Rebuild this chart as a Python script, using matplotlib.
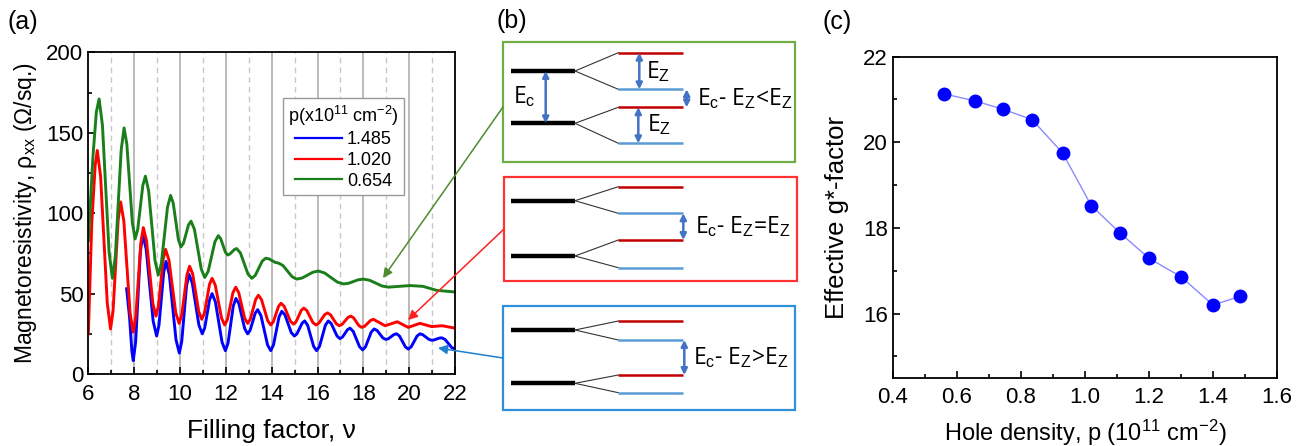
import matplotlib
matplotlib.use("Agg")
import matplotlib.pyplot as plt
from matplotlib.ticker import MultipleLocator, FormatStrFormatter
from matplotlib.patches import Rectangle

plt.rcParams['font.family'] = ['Liberation Sans', 'DejaVu Sans']
plt.rcParams['mathtext.fontset'] = 'custom'
plt.rcParams['mathtext.rm'] = 'Liberation Sans'
plt.rcParams['mathtext.it'] = 'Liberation Sans:italic'

# ---------------- Panel (a) data: points ----------------
nu_green = [6.0, 6.2, 6.35, 6.47, 6.615, 6.905, 7.05, 7.178, 7.433, 7.56, 7.68, 7.92, 8.04,
            8.153, 8.378, 8.49, 8.63, 8.91, 9.05, 9.185, 9.455, 9.59, 9.703, 9.928, 10.04,
            10.15, 10.37, 10.48, 10.63, 10.93, 11.08, 11.228, 11.523, 11.67, 11.773, 11.978,
            12.08, 12.178, 12.373, 12.47, 12.635, 12.965, 13.13, 13.283, 13.588, 13.74,
            13.878, 14.153, 14.29, 14.49, 14.89, 15.09, 15.33, 15.8, 16.04, 16.31, 16.86,
            17.13, 17.35, 17.78, 18.0, 18.27, 18.82, 19.09, 20.04, 20.6, 21.2, 22.0]
rho_green = [83, 135, 163, 171, 154.7, 75.8, 59.5, 73.2, 139.3, 153, 142.9, 94.1, 84,
             89.7, 117.3, 123, 114, 70.5, 61.5, 68.7, 103.8, 111, 106.3, 83.7, 79,
             81.3, 92.7, 95, 89.9, 65.1, 60, 63.8, 82.2, 86, 84.2, 75.8,
             74, 74.6, 77.4, 78, 75.3, 62.2, 59.5, 61.3, 70.2, 72,
             71.6, 69.4, 69, 67.5, 60.5, 59, 59.7, 63.3, 64, 62.8, 57.2,
             56, 56.4, 58.6, 59, 58.3, 54.7, 54, 55, 54.5, 52, 51]

nu_red = [6.0, 6.15, 6.3, 6.39, 6.535, 6.825, 6.97, 7.08, 7.30, 7.41, 7.548, 7.823, 7.96,
          8.07, 8.29, 8.40, 8.538, 8.813, 8.95, 9.055, 9.265, 9.37, 9.518, 9.813, 9.96,
          10.075, 10.305, 10.42, 10.553, 10.818, 10.95, 11.063, 11.288, 11.40, 11.538,
          11.813, 11.95, 12.07, 12.31, 12.43, 12.56, 12.82, 12.95, 13.068, 13.303, 13.42,
          13.555, 13.825, 13.96, 14.073, 14.298, 14.41, 14.545, 14.815, 14.95, 15.063,
          15.288, 15.40, 15.533, 15.798, 15.93, 16.058, 16.313, 16.44, 16.568, 16.823,
          16.95, 17.075, 17.325, 17.45, 17.57, 17.81, 17.93, 18.058, 18.313, 18.44, 18.95,
          19.48, 19.96, 20.47, 20.98, 21.45, 22.0]
rho_red = [25, 94, 130, 139, 122.8, 44.2, 28, 39.5, 95.5, 107, 95.2, 37.8, 26,
           35.5, 81.5, 91, 83, 44, 36, 42.1, 71.4, 77.5, 70.8, 38.2, 31.5,
           36.7, 61.8, 67, 62.2, 38.8, 34, 37.7, 55.8, 59.5, 55.3,
           34.7, 30.5, 33.9, 50.6, 54, 50.7, 34.8, 31.5, 34.1, 46.4, 49,
           46.3, 33.2, 30.5, 32.5, 42, 44, 42.1, 32.9, 31, 32.5,
           39.5, 41, 39.5, 32, 30.5, 31.6, 36.9, 38, 36.8, 31.2,
           30, 30.9, 35.1, 36, 35, 30, 29, 29.7, 33.3, 34, 30,
           32.5, 29, 31.5, 29.5, 30, 28.5]

nu_blue = [7.67, 7.8, 7.9, 7.96, 8.063, 8.268, 8.37, 8.523, 8.828, 8.98, 9.083, 9.288,
           9.39, 9.535, 9.825, 9.97, 10.075, 10.285, 10.39, 10.535, 10.825, 10.97, 11.078,
           11.293, 11.40, 11.545, 11.835, 11.98, 12.095, 12.325, 12.44, 12.568, 12.823,
           12.95, 13.06, 13.28, 13.39, 13.533, 13.818, 13.96, 14.08, 14.32, 14.44, 14.578,
           14.853, 14.99, 15.103, 15.328, 15.44, 15.57, 15.83, 15.96, 16.088, 16.343, 16.47,
           16.598, 16.853, 16.98, 17.09, 17.31, 17.42, 17.558, 17.833, 17.97, 18.095,
           18.345, 18.47, 18.598, 18.853, 18.98, 19.098, 19.333, 19.45, 19.578, 19.833,
           19.96, 20.088, 20.343, 20.47, 20.598, 20.853, 20.98, 21.09, 21.31, 21.42,
           21.565, 21.855, 22.0]
rho_blue = [53, 35, 14, 8.3, 19.8, 75.5, 87, 77.7, 32.9, 23.6, 30.4, 63.2,
            70, 61.7, 21.3, 13, 20.2, 54.8, 62, 56.6, 30.4, 25, 28.7,
            46.3, 50, 44.8, 19.7, 14.5, 19.2, 42.3, 47, 43.8, 28.2,
            25, 27.2, 37.8, 40, 36.3, 18.2, 14.5, 18.1, 35.4, 39, 36.8,
            25.8, 23.6, 25, 31.6, 33, 30.3, 17.2, 14.5, 17.2, 30.3, 33,
            31.4, 23.6, 22, 23, 27.6, 28.5, 26.5, 17, 15, 16.9,
            26.1, 28, 27.1, 22.4, 21.5, 22, 24.5, 25, 23.6, 16.9,
            15.5, 16.9, 23.6, 25, 24.4, 21.6, 21, 21.2, 22.3, 22.5,
            21.5, 16.5, 15.5]

legend_labels = ["1.485", "1.020", "0.654"]

# ---------------- Panel (c) data ----------------
hole_density = [0.56, 0.655, 0.745, 0.835, 0.93, 1.02, 1.11, 1.20, 1.30, 1.40, 1.485]
g_factor = [21.13, 20.97, 20.77, 20.53, 19.75, 18.52, 17.88, 17.29, 16.86, 16.20, 16.40]

W, H = 1303, 446
fig = plt.figure(figsize=(W / 100, H / 100), dpi=100)

# ---------------- Panel (a) ----------------
axa = fig.add_axes([0.0678, 0.1614, 0.2814, 0.7213])
for x in range(7, 22):
    if x % 2 == 0:
        axa.axvline(x, color='#a8a8a8', lw=1.1, ls='-', zorder=0)
    else:
        axa.axvline(x, color='#c8c8c8', lw=1.0, ls=(0, (4, 3)), zorder=0)
lb, = axa.plot(nu_blue, rho_blue, color='#0000ff', lw=2.1, solid_joinstyle='round')
lr, = axa.plot(nu_red, rho_red, color='#ff0000', lw=2.1, solid_joinstyle='round')
lg, = axa.plot(nu_green, rho_green, color='#1a7f1a', lw=2.1, solid_joinstyle='round')
axa.set_xlim(6, 22)
axa.set_ylim(0, 200)
axa.xaxis.set_major_locator(MultipleLocator(2))
axa.xaxis.set_minor_locator(MultipleLocator(1))
axa.yaxis.set_major_locator(MultipleLocator(50))
axa.yaxis.set_minor_locator(MultipleLocator(25))
axa.tick_params(which='both', direction='in', labelsize=16, width=1.2)
axa.tick_params(which='major', length=5)
axa.tick_params(which='minor', length=3)
axa.tick_params(axis='x', pad=7)
for s in axa.spines.values():
    s.set_linewidth(1.3)
axa.set_xlabel("Filling factor, ν", fontsize=19, labelpad=10)
axa.set_ylabel("Magnetoresistivity, ρ$_{\\rm xx}$ (Ω/sq.)", fontsize=16.5, labelpad=5)
leg = axa.legend([lb, lr, lg], legend_labels, title="p(x10$^{11}$ cm$^{-2}$)",
                 loc='upper left', bbox_to_anchor=(0.53, 0.857), fontsize=13,
                 title_fontsize=13, frameon=True, fancybox=False, framealpha=1,
                 edgecolor='#999999', handlelength=2.6, handletextpad=0.3,
                 borderpad=0.3, labelspacing=0.2, borderaxespad=0)
leg.get_frame().set_linewidth(1.0)
for l in leg.get_lines():
    l.set_linewidth(1.6)
fig.text(0.006, 0.95, "(a)", fontsize=18, va='center', ha='left')

# ---------------- Panel (c) ----------------
axc = fig.add_axes([0.6853, 0.1531, 0.2947, 0.7198])
axc.plot(hole_density, g_factor, color='#8a8aff', lw=1.0, marker='o', ms=9,
         mfc='#0000ff', mec='#0000ff', zorder=3)
axc.set_xlim(0.4, 1.6)
axc.set_ylim(14.5, 22)
axc.xaxis.set_major_locator(MultipleLocator(0.2))
axc.xaxis.set_minor_locator(MultipleLocator(0.1))
axc.yaxis.set_major_locator(MultipleLocator(2))
axc.yaxis.set_minor_locator(MultipleLocator(1))
axc.tick_params(which='both', direction='in', labelsize=16, width=1.2)
axc.tick_params(which='major', length=5)
axc.tick_params(which='minor', length=3)
axc.tick_params(axis='x', pad=7)
axc.xaxis.set_major_formatter(FormatStrFormatter('%.1f'))
for s in axc.spines.values():
    s.set_linewidth(1.3)
axc.set_xlabel("Hole density, p (10$^{11}$ cm$^{-2}$)", fontsize=17, labelpad=7)
axc.set_ylabel("Effective g*-factor", fontsize=18.5, labelpad=10)
fig.text(0.631, 0.95, "(c)", fontsize=18, va='center', ha='left')

# ---------------- Panel (b): schematic in pixel coordinates ----------------
axb = fig.add_axes([0, 0, 1, 1], zorder=5)
axb.set_xlim(0, W)
axb.set_ylim(H, 0)
axb.set_axis_off()
axb.patch.set_facecolor('none')
fig.text(497 / W, 1 - 21 / H, "(b)", fontsize=18, va='center', ha='left')

box_edges = ['#70ad47', '#ff3333', '#2f8fd8']
box_x = [(502.7, 795), (504, 796.7), (502.7, 795)]
box_y = [(41.7, 161.7), (176.7, 280.7), (306, 410)]
black_y = [(71, 123.3), (200.7, 256), (330, 383.3)]
red_y = [(52.7, 107.3), (186.7, 240), (321, 375)]
blue_y = [(89.3, 143.3), (213.3, 267.7), (340, 392.7)]
gap_arrow_x = [686.7, 683.3, 684.3]
gap_text = ["E$_{\\rm c}$- E$_{\\rm Z}$<E$_{\\rm Z}$", "E$_{\\rm c}$- E$_{\\rm Z}$=E$_{\\rm Z}$",
            "E$_{\\rm c}$- E$_{\\rm Z}$>E$_{\\rm Z}$"]
gap_text_x = [696.7, 695, 693.3]
arrow_col = '#4472c4'

def darrow(x, y0, y1):
    axb.annotate("", xy=(x, y1), xytext=(x, y0),
                 arrowprops=dict(arrowstyle='<|-|>', color=arrow_col, lw=1.8,
                                 mutation_scale=9, shrinkA=0, shrinkB=0))

for i in range(3):
    x0, x1 = box_x[i]
    y0, y1 = box_y[i]
    axb.add_patch(Rectangle((x0, y0), x1 - x0, y1 - y0, fill=False,
                            edgecolor=box_edges[i], lw=1.6))
    for j in range(2):
        yb = black_y[i][j]
        yr = red_y[i][j]
        ybl = blue_y[i][j]
        axb.plot([510.7, 575], [yb, yb], color='black', lw=3.2, solid_capstyle='butt')
        axb.plot([575, 618.3], [yb, yr], color='#333333', lw=0.8)
        axb.plot([575, 618.3], [yb, ybl], color='#333333', lw=0.8)
        axb.plot([618.3, 682.7], [yr, yr], color='#c00000', lw=1.8, solid_capstyle='butt')
        axb.plot([618.3, 682.7], [ybl, ybl], color='#5b9bd5', lw=1.8, solid_capstyle='butt')
    darrow(gap_arrow_x[i], blue_y[i][0], red_y[i][1])
    axb.text(gap_text_x[i], (blue_y[i][0] + red_y[i][1]) / 2, gap_text[i],
             fontsize=16.5, va='center', ha='left', family='Open Sans')

darrow(545.7, black_y[0][0], black_y[0][1])
axb.text(513, 97, "E$_{\\rm c}$", fontsize=16.5, va='center', ha='left', family='Open Sans')
darrow(639.3, red_y[0][0], blue_y[0][0])
axb.text(646, 72, "E$_{\\rm Z}$", fontsize=16.5, va='center', ha='left', family='Open Sans')
darrow(638.3, red_y[0][1], blue_y[0][1])
axb.text(647, 125, "E$_{\\rm Z}$", fontsize=16.5, va='center', ha='left', family='Open Sans')

conn_start = [(503, 107), (504, 229), (503, 358)]
conn_end = [(383, 278), (408, 320), (438, 348)]
conn_col = ['#4f8a2f', '#ff2020', '#1f7fd0']
for s, e, c in zip(conn_start, conn_end, conn_col):
    axb.annotate("", xy=e, xytext=s,
                 arrowprops=dict(arrowstyle='-|>', color=c, lw=1.1,
                                 mutation_scale=14, shrinkA=0, shrinkB=0))

fig.savefig("out.png", dpi=100)
